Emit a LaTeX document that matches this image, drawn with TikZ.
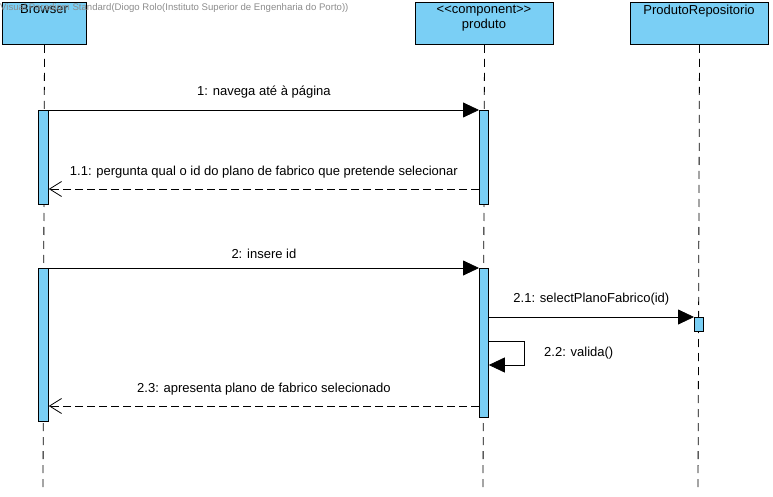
\documentclass[tikz,border=0pt]{standalone}
\usepackage{fontspec}
\setmainfont{Liberation Sans}
\usetikzlibrary{arrows.meta}
\definecolor{vpblue}{HTML}{7ACFF5}
\definecolor{wm}{HTML}{8C8C8C}
\tikzset{
  x=1pt,y=-1pt,
  every node/.style={font=\fontsize{13}{15}\selectfont},
  head/.style={draw=black,line width=1pt,fill=vpblue,minimum width=#1,minimum height=42pt,inner sep=0pt},
  act/.style={draw=black,line width=0.8pt,fill=vpblue},
  life/.style={line width=0.8pt,dash pattern=on 8pt off 6pt},
  syncmsg/.style={line width=0.8pt,-{Triangle[length=16pt,width=15pt]}},
  retmsg/.style={line width=0.8pt,dash pattern=on 8pt off 4pt,-{Straight Barb[length=12pt,width=15pt,line width=0.8pt]}},
  lbl/.style={inner sep=0pt}
}
\begin{document}
\begin{tikzpicture}
\useasboundingbox (0,0) rectangle (773,497);
% heads
\node[head=84pt,anchor=north west] (hb) at (2,2) {};
\node[anchor=north,lbl] (tb) at (44,4) {Browser};
\node[head=138pt,anchor=north west] (hp) at (415,2) {};
\node[anchor=north,lbl,align=center] (tp) at (484,5) {\fontsize{13}{19}\selectfont <{}<component>{}>\\produto};
\node[head=138pt,anchor=north west] (hr) at (630,2) {};
\node[anchor=north,lbl] (tr) at (699,5) {ProdutoRepositorio};
% watermark
\node[anchor=west,text=wm,lbl,font=\fontsize{9.6}{11}\selectfont] (wmk) at (0,8) {Visual Paradigm Standard(Diogo Rolo(Instituto Superior de Engenharia do Porto))};
% lifelines
\coordinate (eb) at (43,492);
\coordinate (ep) at (483,492);
\coordinate (er) at (698,492);
\draw[life] (hb.south) -- (eb);
\draw[life] (hp.south) -- (ep);
\draw[life] (hr.south) -- (er);
% activations
\node[act,anchor=north west,minimum width=10pt,minimum height=94pt,inner sep=0pt] (b1) at (38,110) {};
\node[act,anchor=north west,minimum width=9pt,minimum height=94pt,inner sep=0pt] (p1) at (479,110) {};
\node[act,anchor=north west,minimum width=10pt,minimum height=153pt,inner sep=0pt] (b2) at (38,268) {};
\node[act,anchor=north west,minimum width=9pt,minimum height=149pt,inner sep=0pt] (p2) at (479,268) {};
\node[act,anchor=north west,minimum width=9pt,minimum height=14pt,inner sep=0pt] (r1) at (694,317) {};
% messages
\draw[syncmsg] (b1.north east) -- (p1.north west) node[midway,above=11pt,lbl] {1: navega até à página};
\draw[retmsg] (p1.west |- 0,189) -- (b1.east |- 0,189) node[midway,above=10pt,lbl] {1.1: pergunta qual o id do plano de fabrico que pretende selecionar};
\draw[syncmsg] (b2.north east) -- (p2.north west) node[midway,above=9pt,lbl] {2: insere id};
\draw[syncmsg] (p2.east |- r1.north) -- (r1.north west) node[midway,above=11pt,lbl] {2.1: selectPlanoFabrico(id)};
\coordinate (s1) at (524,341);
\coordinate (s2) at (524,365);
\draw[syncmsg] (p2.east |- s1) -- (s1) -- (s2) -- (p2.east |- s2);
\node[anchor=west,lbl] (v) at (544,353) {2.2: valida()};
\draw[retmsg] (p2.west |- 0,406) -- (b2.east |- 0,406) node[midway,above=10pt,lbl] {2.3: apresenta plano de fabrico selecionado};
\end{tikzpicture}
\end{document}
